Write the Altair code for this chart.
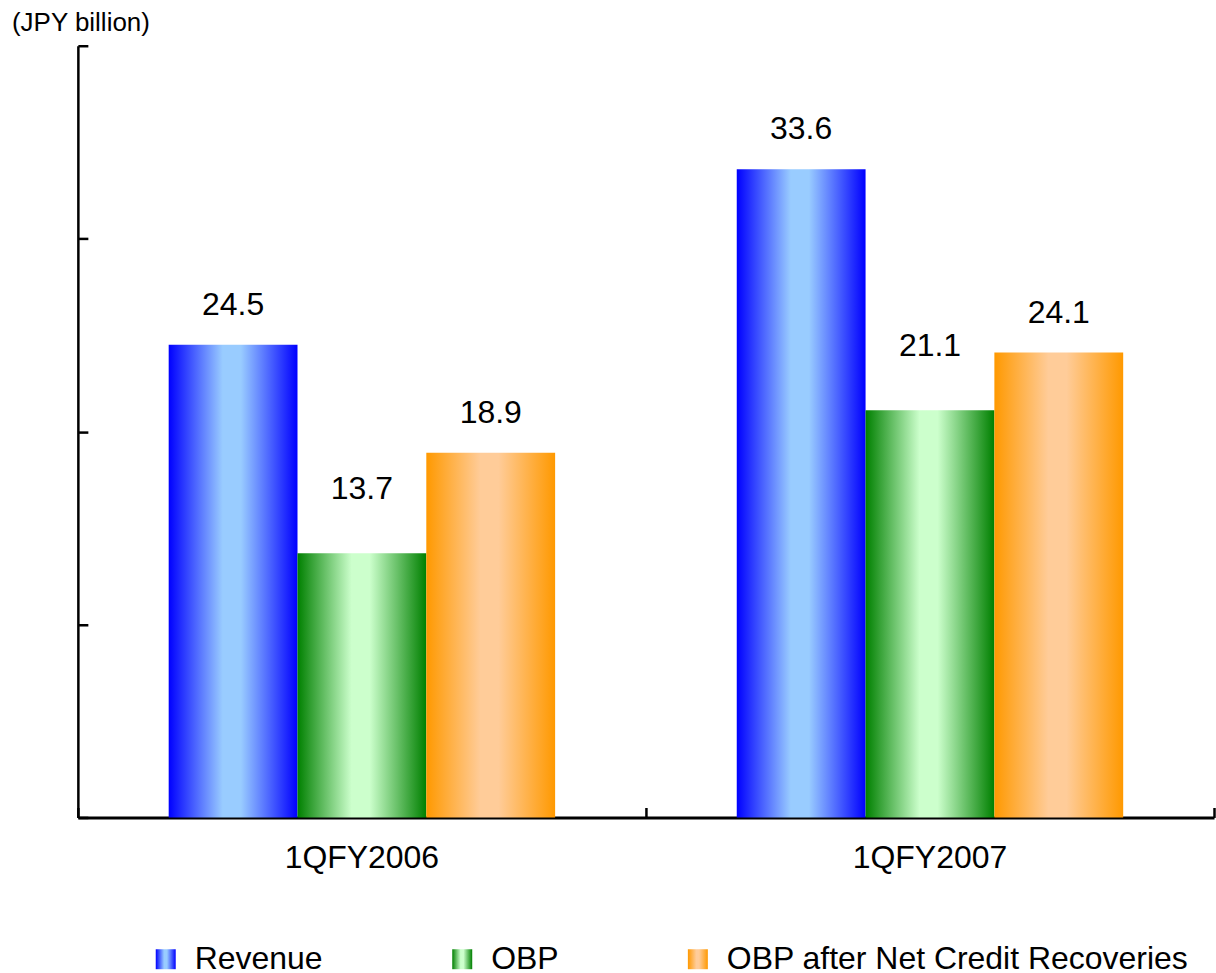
import altair as alt
import pandas as pd

# Quarterly results, JPY billion
periods = ["1QFY2006", "1QFY2007"]
series = ["Revenue", "OBP", "OBP after Net Credit Recoveries"]
revenue = [24.5, 33.6]
obp = [13.7, 21.1]
obp_after = [18.9, 24.1]

rows = []
for i, p in enumerate(periods):
    for s, vals in zip(series, [revenue, obp, obp_after]):
        rows.append({"period": p, "series": s, "value": vals[i]})
df = pd.DataFrame(rows)

FONT = "Liberation Sans"
W, H = 1138, 773
FS = 32


def shaded(edge, mid):
    # horizontal cylinder-like shading: dark edges, light centre
    return {
        "expr": (
            "{gradient: 'linear', x1: 0, y1: 0, x2: 1, y2: 0, stops: ["
            f"{{offset: 0, color: '{edge}'}},"
            f"{{offset: 0.42, color: '{mid}'}},"
            f"{{offset: 0.56, color: '{mid}'}},"
            f"{{offset: 1, color: '{edge}'}}]}}"
        )
    }


fills = [
    shaded("#0000ff", "#99ccff"),
    shaded("#008000", "#ccffcc"),
    shaded("#ff9900", "#ffcc99"),
]

x_scale = alt.Scale(domain=periods, paddingInner=0, paddingOuter=0)
off_scale = alt.Scale(domain=series, paddingInner=0, paddingOuter=0.705)
y_scale = alt.Scale(domain=[0, 40], nice=False)

base = alt.Chart(df)

bars = base.mark_bar().encode(
    x=alt.X(
        "period:N",
        scale=x_scale,
        axis=alt.Axis(
            orient="top", offset=-H, labels=False, domain=False, title=None,
            ticks=True, tickBand="extent", tickSize=10, tickWidth=2.5,
            tickColor="black",
        ),
    ),
    xOffset=alt.XOffset("series:N", scale=off_scale),
    y=alt.Y(
        "value:Q",
        scale=y_scale,
        axis=alt.Axis(
            orient="right", offset=-W, labels=False, title=None,
            values=[0, 10, 20, 30, 40], tickSize=10, tickWidth=2.5,
            tickColor="black", domainColor="black", domainWidth=2.5,
            grid=False,
        ),
    ),
    color=alt.Color(
        "series:N",
        scale=alt.Scale(domain=series, range=fills),
        legend=alt.Legend(
            orient="none", legendX=72, legendY=899, direction="horizontal",
            title=None, symbolType="square", symbolSize=400,
            symbolStrokeWidth=0, symbolOpacity=1, labelFontSize=FS,
            labelFont=FONT, labelColor="black", labelOffset=13,
            columnPadding=123, padding=0, labelLimit=0,
        ),
    ),
)

label_common = dict(fontSize=FS, font=FONT, color="black", baseline="alphabetic")

labels_main = base.transform_filter(
    alt.datum.series != "OBP"
).mark_text(dy=-30, **label_common).encode(
    x=alt.X(
        "period:N",
        scale=x_scale,
        axis=alt.Axis(
            orient="bottom", title=None, ticks=False, domain=True,
            domainColor="black", domainWidth=3, labelFont=FONT,
            labelFontSize=FS, labelColor="black", labelPadding=25,
            labelAngle=0,
        ),
    ),
    xOffset=alt.XOffset("series:N", scale=off_scale),
    y=alt.Y("value:Q", scale=y_scale, axis=None),
    text=alt.Text("value:Q", format=".1f"),
)

labels_obp = base.transform_filter(
    alt.datum.series == "OBP"
).mark_text(dy=-54, **label_common).encode(
    x=alt.X("period:N", scale=x_scale, axis=None),
    xOffset=alt.XOffset("series:N", scale=off_scale),
    y=alt.Y("value:Q", scale=y_scale, axis=None),
    text=alt.Text("value:Q", format=".1f"),
)

chart = (
    alt.layer(bars, labels_main, labels_obp)
    .resolve_axis(x="independent", y="independent")
    .properties(
        width=W,
        height=H,
        title=alt.TitleParams(
            "(JPY billion)", anchor="start", frame="group", dx=-66,
            fontSize=26, fontWeight="normal", font=FONT, color="black",
            baseline="alphabetic", offset=-12,
        ),
        padding={"left": 12, "top": 8, "right": 0, "bottom": 0},
        background="white",
    )
    .configure_view(stroke=None)
)

chart.save("out.html", embed_options={"renderer": "svg", "actions": False})
